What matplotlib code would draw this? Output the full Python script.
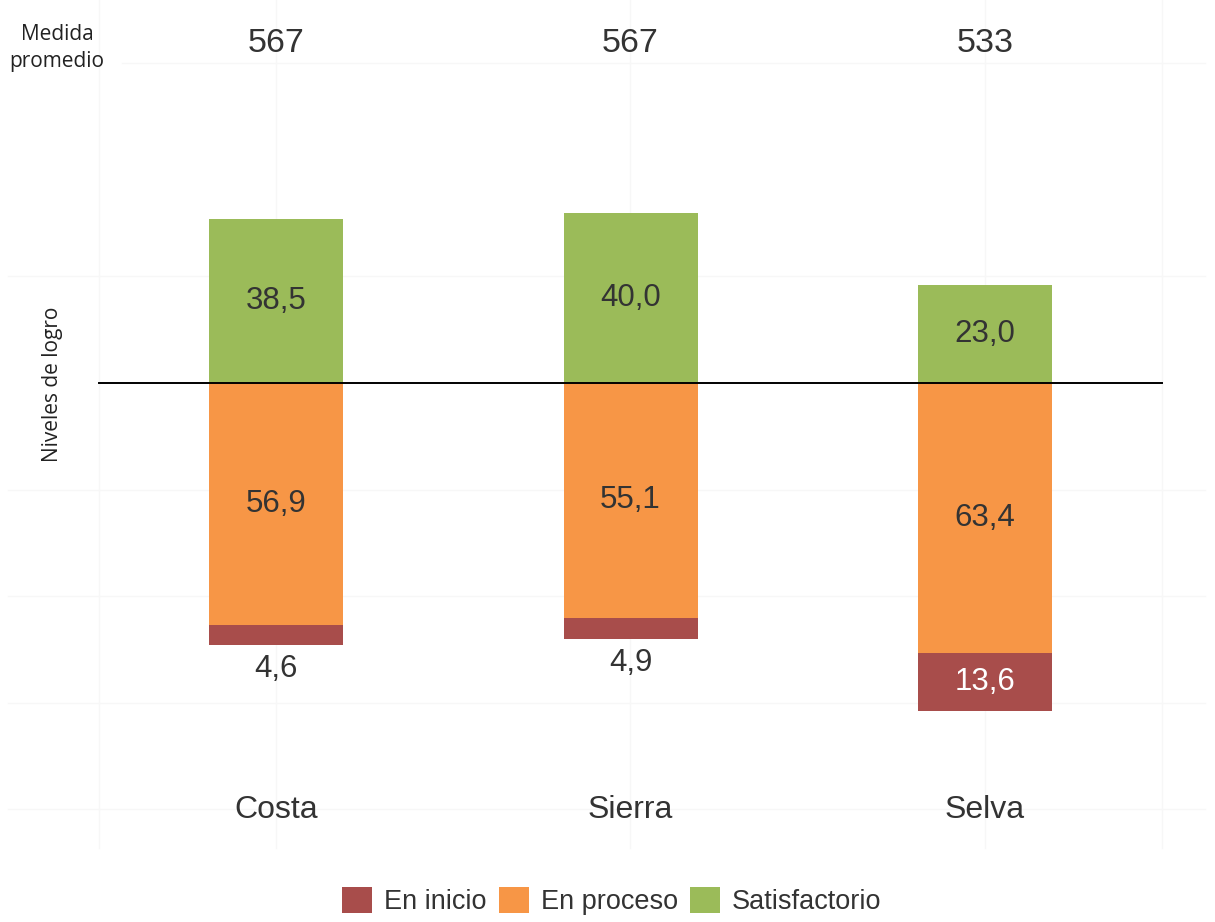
import matplotlib
matplotlib.use("Agg")
import matplotlib.pyplot as plt
from matplotlib.patches import Patch

regions = ["Costa", "Sierra", "Selva"]
medida_promedio = ["567", "567", "533"]
en_inicio = [4.6, 4.9, 13.6]
en_proceso = [56.9, 55.1, 63.4]
satisfactorio = [38.5, 40.0, 23.0]
series_names = ["En inicio", "En proceso", "Satisfactorio"]
colors = ["#A84D4B", "#F79646", "#9BBB59"]

TXT = "#333333"
W, H = 1215, 922
fig = plt.figure(figsize=(W / 100, H / 100), dpi=100)
ax = fig.add_axes([0, 0, 1, 1])

# pixel -> data mapping (zero line at 383 px, 4.26 px per unit; categories 354.5 px apart)
pxu = 4.26
y0 = 383
xpu = 354.5
x0 = 276
ax.set_xlim((0 - x0) / xpu, (W - x0) / xpu)
ax.set_ylim((y0 - H) / pxu, y0 / pxu)
ax.axis("off")

def py(p):
    return (y0 - p) / pxu

def px(p):
    return (p - x0) / xpu

# faint grid
GC = "#f7f7f7"
ax.plot([px(122), px(1205)], [py(63), py(63)], color=GC, lw=1, zorder=0)
for g in [276, 490, 596, 703, 809]:
    ax.plot([px(8), px(1205)], [py(g), py(g)], color=GC, lw=1, zorder=0)
for g in [99, 276, 630, 985, 1162]:
    ax.plot([px(g), px(g)], [py(0), py(848)], color=GC, lw=1, zorder=0)

xs = list(range(len(regions)))
bw = 134 / xpu

ax.bar(xs, satisfactorio, width=bw, color=colors[2], zorder=2)
ax.bar(xs, [-v for v in en_proceso], width=bw, color=colors[1], zorder=2)
ax.bar(xs, [-v for v in en_inicio], bottom=[-v for v in en_proceso], width=bw,
       color=colors[0], zorder=2)

ax.plot([px(99), px(1162)], [0, 0], color="black", lw=1.4, zorder=3)

fam = ["Liberation Sans", "DejaVu Sans"]
LFS = 22.5
for i, x in enumerate(xs):
    ax.text(x, satisfactorio[i] / 2, f"{satisfactorio[i]:.1f}".replace(".", ","),
            ha="center", va="center", fontsize=LFS, color=TXT, family=fam, zorder=4)
    ax.text(x, -en_proceso[i] / 2, f"{en_proceso[i]:.1f}".replace(".", ","),
            ha="center", va="center", fontsize=LFS, color=TXT, family=fam, zorder=4)
    bottom = -(en_proceso[i] + en_inicio[i])
    lab = f"{en_inicio[i]:.1f}".replace(".", ",")
    if en_inicio[i] >= 10:
        ax.text(x, -en_proceso[i] - en_inicio[i] / 2, lab, ha="center", va="center",
                fontsize=LFS, color="white", family=fam, zorder=4)
    else:
        ax.text(x, bottom - 24 / pxu, lab, ha="center", va="center",
                fontsize=LFS, color=TXT, family=fam, zorder=4)
    ax.text(x, py(44), medida_promedio[i], ha="center", va="center",
            fontsize=24.5, color=TXT, family=fam)
    ax.text(x, py(810), regions[i], ha="center", va="center",
            fontsize=23, color=TXT, family=fam)

ax.text(px(57), py(48), "Medida\npromedio", ha="center", va="center",
        fontsize=15, color="#222222", family=["Open Sans", "DejaVu Sans"],
        linespacing=1.35)
ax.text(px(52), py(384), "Niveles de logro", ha="center", va="center",
        rotation=90, fontsize=15, color="#222222", family=["Open Sans", "DejaVu Sans"])

handles = [Patch(facecolor=c, edgecolor="none") for c in colors]
fig.legend(handles, series_names, loc="center", bbox_to_anchor=(612 / W, 1 - 901 / H),
           ncol=3, frameon=False, prop={"family": "Liberation Sans", "size": 19.5},
           handlelength=1.1, handleheight=1.1, handletextpad=0.45, columnspacing=0.45,
           labelcolor=TXT)

fig.savefig("out.png", dpi=100)
